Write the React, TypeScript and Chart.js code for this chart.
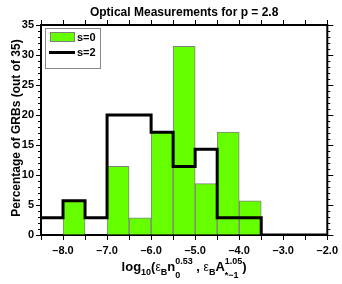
import React, { useEffect, useRef } from 'react';
import { Chart, registerables } from 'chart.js';

Chart.register(...registerables);

// ---- data ----
const binCenters = [-8.25, -7.75, -7.25, -6.75, -6.25, -5.75, -5.25, -4.75, -4.25, -3.75];
const s0Values = [0, 5.71, 0, 11.43, 2.86, 17.14, 31.43, 8.57, 17.14, 5.71];
const s2Edges = [-8.5, -8.0, -7.5, -7.0, -6.5, -6.0, -5.5, -5.0, -4.5, -4.0, -3.5, -2.0];
const s2Values = [2.86, 5.71, 2.86, 20.0, 20.0, 17.14, 11.43, 14.29, 2.86, 2.86, 0, 0];
const seriesLabels = ['s=0', 's=2'];
const xMin = -8.5;
const xMax = -2.0;
const xStep = 0.5;
const yMin = 0;
const yMax = 35;
const yStep = 5;
const yMinorStep = 1;
const titleText = 'Optical Measurements for p = 2.8';
const yTitleText = 'Percentage of GRBs (out of 35)';
// x title pieces: base text, or stacked sup/sub
const xTitleRuns = [
  { t: 'log' },
  { sub: '10' },
  { t: '(' },
  { t: 'ε', greek: true },
  { sub: 'B' },
  { t: 'n' },
  { sup: '0.53', sub: '0' },
  { t: ' , ' },
  { t: 'ε', greek: true },
  { sub: 'B' },
  { t: 'A' },
  { sup: '1.05', sub: '*−1' },
  { t: ')' },
];

const GREEN = '#66ff00';
const FONT = '"Liberation Sans", Arial, sans-serif';

const decorPlugin = {
  id: 'decor',
  afterDraw(chart: any) {
    const { ctx, chartArea: a, scales } = chart;
    const xs = scales.x;
    const ys = scales.y;
    ctx.save();
    ctx.strokeStyle = '#000';
    const seg = (x1: number, y1: number, x2: number, y2: number) => {
      ctx.beginPath();
      ctx.moveTo(x1, y1);
      ctx.lineTo(x2, y2);
      ctx.stroke();
    };
    // top & right frame
    ctx.lineWidth = 2;
    ctx.beginPath();
    ctx.moveTo(a.left - 1, a.top);
    ctx.lineTo(a.right, a.top);
    ctx.lineTo(a.right, a.bottom + 1);
    ctx.stroke();
    // top ticks
    ctx.lineWidth = 1;
    for (let v = xMin; v <= xMax + 1e-9; v += xStep) {
      const px = Math.round(xs.getPixelForValue(v)) + 0.5;
      seg(px, a.top, px, a.top - 5);
    }
    // y minor ticks (left) and right ticks
    for (let v = yMin; v <= yMax + 1e-9; v += yMinorStep) {
      const py = Math.round(ys.getPixelForValue(v)) + 0.5;
      const major = Math.abs(v % yStep) < 1e-9;
      if (!major) seg(a.left - 3, py, a.left, py);
      seg(a.right, py, a.right + (major ? 6 : 3), py);
    }

    // title
    ctx.fillStyle = '#000';
    ctx.font = `bold 12px ${FONT}`;
    ctx.textAlign = 'center';
    ctx.textBaseline = 'alphabetic';
    ctx.fillText(titleText, (a.left + a.right) / 2, 16);

    // y title
    ctx.save();
    ctx.translate(20, 128);
    ctx.rotate(-Math.PI / 2);
    ctx.font = `bold 12px ${FONT}`;
    ctx.textAlign = 'center';
    ctx.fillText(yTitleText, 0, 0);
    ctx.restore();

    // x title
    const baseFont = `bold 13px ${FONT}`;
    const scriptFont = `bold 9px ${FONT}`;
    const greekFont = `12px ${FONT}`;
    const widths = xTitleRuns.map((r: any) => {
      if (r.t !== undefined) {
        ctx.font = r.greek ? greekFont : baseFont;
        return ctx.measureText(r.t).width;
      }
      ctx.font = scriptFont;
      return Math.max(r.sup ? ctx.measureText(r.sup).width : 0, r.sub ? ctx.measureText(r.sub).width : 0);
    });
    const total = widths.reduce((s: number, w: number) => s + w, 0);
    let cx = (a.left + a.right) / 2 - total / 2;
    const base = 271;
    ctx.textAlign = 'left';
    xTitleRuns.forEach((r: any, i: number) => {
      if (r.t !== undefined) {
        ctx.font = r.greek ? greekFont : baseFont;
        ctx.fillText(r.t, cx, base);
      } else {
        ctx.font = scriptFont;
        if (r.sup) ctx.fillText(r.sup, cx, base - 7);
        if (r.sub) ctx.fillText(r.sub, cx, base + (r.sup ? 7 : 4));
      }
      cx += widths[i];
    });

    // legend
    ctx.lineWidth = 1;
    ctx.strokeStyle = '#888';
    ctx.fillStyle = '#fff';
    ctx.fillRect(46, 28, 55, 41);
    ctx.strokeRect(45.5, 28.5, 55, 40);
    ctx.fillStyle = GREEN;
    ctx.fillRect(50, 32, 25, 10);
    ctx.strokeStyle = '#808080';
    ctx.strokeRect(50.5, 32.5, 24, 9);
    ctx.strokeStyle = '#000';
    ctx.lineWidth = 3;
    seg(49, 52.5, 75, 52.5);
    ctx.fillStyle = '#000';
    ctx.font = `bold 11px ${FONT}`;
    ctx.textAlign = 'left';
    ctx.textBaseline = 'middle';
    ctx.fillText(seriesLabels[0], 77, 37.5);
    ctx.fillText(seriesLabels[1], 77, 52.5);
    ctx.restore();
  },
};

export default function App() {
  const ref = useRef<HTMLCanvasElement | null>(null);
  useEffect(() => {
    if (!ref.current) return;
    const chart = new Chart(ref.current, {
      type: 'bar',
      data: {
        datasets: [
          {
            type: 'line',
            label: seriesLabels[1],
            data: s2Edges.map((x, i) => ({ x, y: s2Values[i] })),
            stepped: 'before',
            borderColor: '#000',
            borderWidth: 3,
            pointRadius: 0,
            fill: false,
            order: 0,
          } as any,
          {
            type: 'bar',
            label: seriesLabels[0],
            data: binCenters.map((x, i) => ({ x, y: s0Values[i] })),
            backgroundColor: GREEN,
            borderColor: '#808080',
            borderWidth: 1,
            barPercentage: 1,
            categoryPercentage: 1,
            order: 1,
          } as any,
        ],
      },
      options: {
        responsive: false,
        animation: false,
        events: [],
        layout: { padding: { top: 25, right: 11, left: 0, bottom: 0 } },
        plugins: { legend: { display: false }, title: { display: false }, tooltip: { enabled: false } },
        scales: {
          x: {
            type: 'linear',
            min: xMin,
            max: xMax,
            offset: false,
            z: 1,
            afterFit: (s: any) => {
              s.height = 49;
            },
            grid: { offset: false, drawOnChartArea: false, drawTicks: true, tickLength: 5, color: '#000', lineWidth: 1 },
            border: { display: true, color: '#000', width: 2 },
            ticks: {
              stepSize: xStep,
              autoSkip: false,
              maxRotation: 0,
              padding: 4,
              color: '#000',
              font: { family: FONT, size: 11, weight: 'bold' },
              callback: (v: any) => {
                const n = Number(v);
                if (Math.abs(n - Math.round(n)) > 1e-9) return '';
                return (n < 0 ? '\u2013' : '') + Math.abs(n).toFixed(1);
              },
            },
          },
          y: {
            type: 'linear',
            min: yMin,
            max: yMax,
            z: 1,
            afterFit: (s: any) => {
              s.width = 41;
            },
            grid: { drawOnChartArea: false, drawTicks: true, tickLength: 5, color: '#000', lineWidth: 1 },
            border: { display: true, color: '#000', width: 2 },
            ticks: {
              stepSize: yStep,
              padding: 2,
              color: '#000',
              font: { family: FONT, size: 11, weight: 'bold' },
            },
          },
        },
      },
      plugins: [decorPlugin],
    });
    return () => chart.destroy();
  }, []);
  return (
    <div style={{ position: 'absolute', left: 0, top: 0, width: 342, height: 284, background: '#fff' }}>
      <canvas ref={ref} width={342} height={284} style={{ display: 'block' }} />
    </div>
  );
}
